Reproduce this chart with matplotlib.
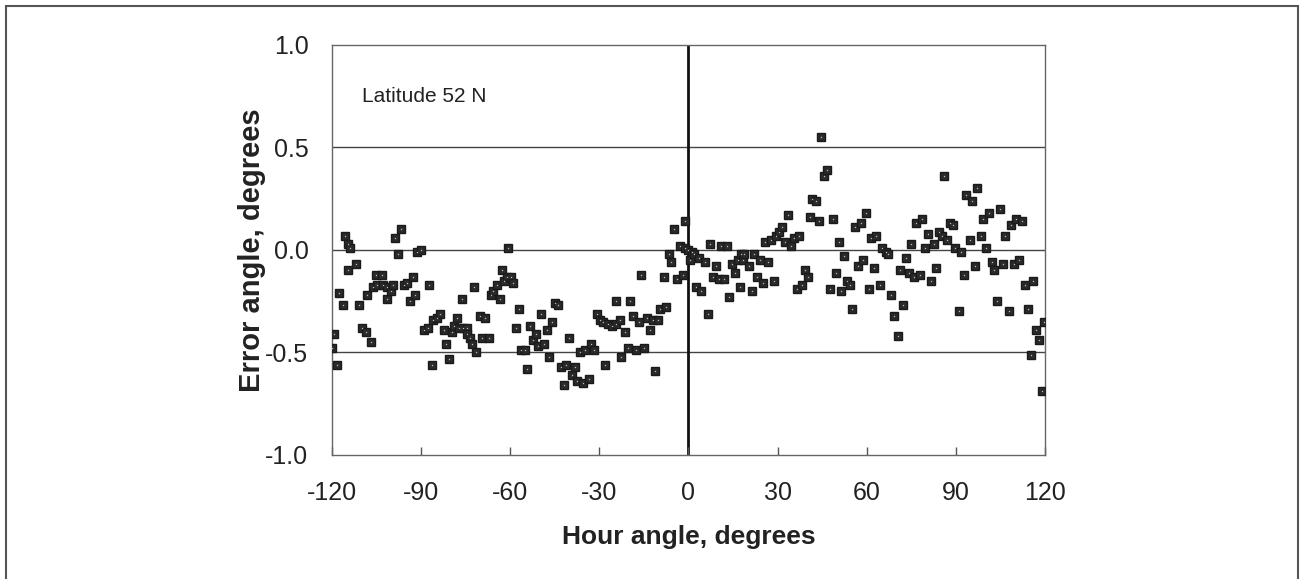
"""Error angle versus hour angle scatter, latitude 52 N."""

import matplotlib

matplotlib.use("Agg")
import matplotlib.pyplot as plt
from matplotlib.patches import Rectangle

# values
hour_angle = [
    -120.0, -119.2, -118.3, -117.5, -116.4, -115.6, -114.7, -114.5, -114.1, -111.9,
    -110.9, -109.9, -108.7, -108.2, -107.0, -106.3, -105.3, -104.7, -103.2, -102.9,
    -101.6, -101.4, -100.3, -99.5, -98.8, -97.7, -96.7, -95.9, -94.9, -93.7,
    -92.9, -92.0, -91.3, -90.0, -89.1, -87.7, -87.3, -86.3, -85.9, -84.7,
    -83.5, -82.3, -81.6, -80.6, -79.7, -78.9, -77.8, -77.4, -76.2, -76.0,
    -74.6, -74.4, -73.7, -73.0, -72.3, -71.6, -70.3, -69.4, -68.4, -67.3,
    -66.6, -65.7, -64.6, -63.6, -62.9, -62.0, -61.0, -60.8, -59.8, -59.0,
    -58.1, -57.1, -56.3, -55.0, -54.2, -53.2, -52.3, -51.3, -50.5, -49.6,
    -48.6, -47.7, -46.8, -45.8, -45.1, -44.0, -43.0, -42.0, -41.2, -40.2,
    -39.2, -38.3, -37.5, -36.6, -35.6, -34.8, -33.6, -32.8, -31.9, -30.9,
    -29.7, -28.7, -28.0, -27.2, -25.8, -24.4, -24.3, -23.2, -22.6, -21.5,
    -20.5, -19.6, -18.7, -17.7, -16.8, -15.9, -15.0, -14.0, -13.1, -12.1,
    -11.2, -10.2, -9.5, -8.4, -7.6, -6.7, -5.8, -4.8, -3.9, -3.0,
    -1.9, -1.1, -1.1, -0.2, 0.6, 1.1, 2.0, 2.5, 3.6, 4.3,
    5.4, 6.5, 7.3, 8.2, 9.2, 10.1, 11.0, 12.0, 12.9, 13.7,
    14.6, 15.7, 16.5, 17.4, 17.6, 18.5, 18.8, 20.2, 21.3, 22.2,
    23.1, 24.1, 25.0, 25.8, 26.7, 27.8, 28.8, 29.4, 30.5, 31.6,
    32.5, 33.4, 34.4, 35.4, 36.4, 37.3, 38.2, 39.2, 40.1, 41.0,
    41.5, 42.9, 43.8, 44.5, 45.7, 46.7, 47.7, 48.5, 49.5, 50.5,
    51.4, 52.4, 53.3, 54.4, 55.2, 56.1, 56.9, 58.0, 58.9, 59.9,
    60.9, 61.5, 62.6, 63.1, 64.6, 65.3, 66.4, 67.3, 68.2, 69.2,
    70.4, 71.3, 72.2, 73.2, 74.1, 74.9, 76.0, 76.7, 77.8, 78.6,
    79.7, 80.6, 81.5, 82.5, 83.4, 84.2, 85.3, 86.1, 87.0, 88.1,
    89.2, 89.8, 90.9, 91.7, 92.8, 93.4, 94.6, 95.4, 96.5, 97.2,
    98.4, 99.1, 100.1, 101.0, 102.1, 103.0, 104.0, 104.8, 105.8, 106.7,
    107.9, 108.5, 109.5, 110.3, 111.4, 112.2, 113.4, 114.3, 115.3, 116.1,
    117.1, 118.0, 119.0, 119.8,
]
error_angle = [
    -0.48, -0.41, -0.56, -0.21, -0.27, 0.07, 0.03, -0.10, 0.01, -0.07,
    -0.27, -0.38, -0.40, -0.22, -0.45, -0.18, -0.12, -0.17, -0.12, -0.17,
    -0.18, -0.24, -0.20, -0.17, 0.06, -0.02, 0.10, -0.17, -0.16, -0.25,
    -0.13, -0.22, -0.01, 0.00, -0.39, -0.38, -0.17, -0.56, -0.34, -0.33,
    -0.31, -0.39, -0.46, -0.53, -0.40, -0.37, -0.33, -0.38, -0.24, -0.38,
    -0.38, -0.41, -0.43, -0.46, -0.18, -0.50, -0.32, -0.43, -0.33, -0.43,
    -0.22, -0.20, -0.17, -0.24, -0.10, -0.15, -0.13, 0.01, -0.13, -0.16,
    -0.38, -0.29, -0.49, -0.49, -0.58, -0.37, -0.44, -0.41, -0.47, -0.31,
    -0.46, -0.39, -0.52, -0.35, -0.26, -0.27, -0.57, -0.66, -0.56, -0.43,
    -0.61, -0.57, -0.64, -0.50, -0.65, -0.49, -0.63, -0.46, -0.49, -0.31,
    -0.34, -0.35, -0.56, -0.36, -0.37, -0.25, -0.36, -0.34, -0.52, -0.40,
    -0.48, -0.25, -0.32, -0.49, -0.35, -0.12, -0.48, -0.33, -0.39, -0.34,
    -0.59, -0.34, -0.29, -0.13, -0.28, -0.02, -0.06, 0.10, -0.14, 0.02,
    -0.12, 0.01, 0.14, 0.00, -0.05, -0.01, -0.02, -0.18, -0.04, -0.20,
    -0.06, -0.31, 0.03, -0.13, -0.08, -0.14, 0.02, -0.14, 0.02, -0.23,
    -0.07, -0.11, -0.05, -0.18, -0.02, -0.05, -0.02, -0.08, -0.20, -0.02,
    -0.13, -0.05, -0.16, 0.04, -0.06, 0.05, -0.15, 0.07, 0.09, 0.11,
    0.04, 0.17, 0.02, 0.06, -0.19, 0.07, -0.17, -0.10, -0.13, 0.16,
    0.25, 0.24, 0.14, 0.55, 0.36, 0.39, -0.19, 0.15, -0.11, 0.04,
    -0.20, -0.03, -0.15, -0.17, -0.29, 0.11, -0.08, 0.13, -0.05, 0.18,
    -0.19, 0.06, -0.09, 0.07, -0.17, 0.01, -0.01, -0.02, -0.22, -0.32,
    -0.42, -0.10, -0.27, -0.04, -0.11, 0.03, -0.13, 0.13, -0.12, 0.15,
    0.01, 0.08, -0.15, 0.03, -0.09, 0.09, 0.07, 0.36, 0.05, 0.13,
    0.12, 0.01, -0.30, -0.01, -0.12, 0.27, 0.05, 0.24, -0.08, 0.30,
    0.07, 0.15, 0.01, 0.18, -0.06, -0.10, -0.25, 0.20, -0.07, 0.07,
    -0.30, 0.12, -0.07, 0.15, -0.05, 0.14, -0.17, -0.29, -0.51, -0.15,
    -0.39, -0.44, -0.69, -0.35,
]
x_ticks = [-120, -90, -60, -30, 0, 30, 60, 90, 120]
y_ticks = [-1.0, -0.5, 0.0, 0.5, 1.0]
y_tick_labels = ["-1.0", "-0.5", "0.0", "0.5", "1.0"]

plt.rcParams["font.family"] = ["Liberation Sans", "DejaVu Sans"]

fig = plt.figure(figsize=(13.02, 5.79), dpi=100)
fig.patches.append(
    Rectangle((0.0046, -0.02), 0.9924, 1.0096, transform=fig.transFigure,
              fill=False, edgecolor="#555555", linewidth=1.5)
)
ax = fig.add_axes([0.255, 0.2142, 0.5476, 0.7081])

for level in (-0.5, 0.0, 0.5):
    ax.axhline(level, color="#444444", linewidth=1.0, zorder=1)
ax.axvline(0, color="#111111", linewidth=2.0, zorder=1)

ax.plot(hour_angle, error_angle, linestyle="none", marker="s", markersize=6,
        markerfacecolor="#2a2a2a", markeredgecolor="#1a1a1a", zorder=3)
ax.plot(hour_angle, error_angle, linestyle="none", marker="s", markersize=0.9,
        markerfacecolor="#bbbbbb", markeredgecolor="none", zorder=4)

ax.set_xlim(-120, 120)
ax.set_ylim(-1.0, 1.0)
ax.set_xticks(x_ticks)
ax.set_xticklabels([str(t) for t in x_ticks])
ax.set_yticks(y_ticks)
ax.set_yticklabels(y_tick_labels)
ax.tick_params(axis="x", direction="in", length=6, width=1, color="#555555",
               labelsize=18, pad=19, labelcolor="#222222")
ax.tick_params(axis="y", length=0, labelsize=18, pad=17, labelcolor="#222222")
for spine in ax.spines.values():
    spine.set_color("#666666")
    spine.set_linewidth(1.0)

ax.set_xlabel("Hour angle, degrees", fontsize=19, fontweight="bold",
              color="#222222", labelpad=14)
ax.set_ylabel("Error angle, degrees", fontsize=21, fontweight="bold",
              color="#222222")
ax.yaxis.set_label_coords(-0.092, 0.5)
ax.text(-110, 0.75, "Latitude 52 N", fontsize=15, color="#222222",
        va="center", ha="left")

fig.savefig("out.png", dpi=100)
